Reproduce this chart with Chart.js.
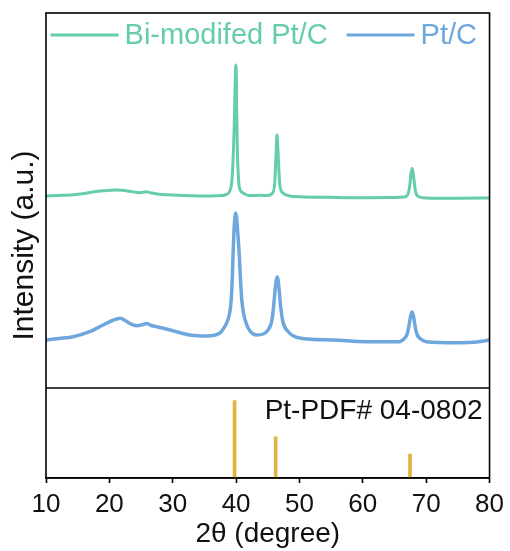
<!DOCTYPE html>
<html>
<head>
<meta charset="utf-8">
<script src="https://cdn.jsdelivr.net/npm/chart.js@4/dist/chart.umd.min.js"></script>
<style>
  html, body { margin: 0; padding: 0; background: #ffffff; }
  #wrap { width: 510px; height: 551px; }
</style>
</head>
<body>
<div id="wrap"><canvas id="c" width="510" height="551"></canvas></div>
<script>
// ---- data (2θ in degrees, intensity in a.u.) ----
const seriesNames = ['Bi-modifed Pt/C', 'Pt/C'];

const biTheta = [10.0, 12.0, 14.3, 16.0, 17.4, 19.0, 20.9, 22.0, 23.2, 24.8, 25.9, 26.5, 27.5, 30.0, 33.0, 35.4, 37.0, 38.5,
  39.0, 39.3, 39.5, 39.7, 39.85, 39.95, 40.05, 40.1, 40.2, 40.35, 40.5, 41.1, 42.0, 43.7, 45.0, 45.7,
  46.1, 46.3, 46.45, 46.6, 46.9, 47.4, 48.5, 50.0, 55.0, 60.6, 65.0, 66.5, 67.1, 67.4, 67.6, 67.8, 68.0,
  68.3, 68.8, 70.0, 75.0, 80.0];
const biIntensity = [2820, 2825, 2833, 2845, 2860, 2872, 2880, 2877, 2867, 2853, 2862, 2853, 2840, 2830, 2822, 2820, 2822, 2835,
  2870, 2950, 3150, 3510, 3930, 4130, 3980, 3680, 3280, 3030, 2910, 2850, 2825, 2827, 2825, 2845,
  2950, 3230, 3430, 3280, 2930, 2850, 2820, 2813, 2807, 2803, 2805, 2810, 2835, 2920, 3040, 3097, 3020,
  2870, 2815, 2800, 2797, 2800];

const ptTheta = [10.0, 12.0, 14.3, 16.9, 19.0, 20.5, 21.7, 22.5, 23.2, 24.3, 25.3, 25.9, 26.6, 27.5, 30.0, 32.7, 35.4, 37.4,
  38.2, 38.7, 38.95, 39.2, 39.4, 39.6, 39.8, 39.95, 40.1, 40.3, 40.5, 40.7, 40.9, 41.2, 41.6, 42.2, 43.2, 44.3, 45.05, 45.35, 45.6,
  45.9, 46.2, 46.5, 46.8, 47.0, 47.4, 48.2, 50.0, 55.3, 60.6, 65.8, 66.3, 66.7, 67.0, 67.3, 67.55, 67.8, 68.05, 68.3, 68.6, 68.95,
  70.0, 74.7, 78.0, 80.0];
const ptIntensity = [1380, 1395, 1413, 1463, 1530, 1575, 1597, 1575, 1547, 1523, 1535, 1545, 1525, 1513, 1473, 1430, 1420, 1447,
  1513, 1580, 1640, 1760, 2000, 2370, 2600, 2650, 2590, 2420, 2230, 1980, 1780, 1640, 1545, 1470, 1430, 1440, 1480, 1515, 1560,
  1700, 1910, 2010, 1880, 1730, 1560, 1465, 1400, 1380, 1363, 1363, 1380, 1405, 1440, 1530, 1620, 1660, 1600, 1500, 1430, 1400,
  1363, 1353, 1360, 1380];

const pdfTheta = [39.76, 46.24, 67.45];
const pdfIntensity = [100, 53, 31];
const pdfLabel = 'Pt-PDF# 04-0802';

const xTicks = [10, 20, 30, 40, 50, 60, 70, 80];
const xTitle = '2\u03B8 (degree)';
const yTitle = 'Intensity (a.u.)';
const panelSplit = 900;   // intensity level separating the pattern panel from the PDF panel

// ---- styles ----
const GREEN = '#66CDAA';
const BLUE = '#6EA7DD';
const GOLD = '#E3B23C';
const FONT = 'Arial, "Liberation Sans", Helvetica, sans-serif';

const zip = (xs, ys) => xs.map((x, i) => ({ x: x, y: ys[i] }));

// horizontal legend drawn inside the top of the plot frame
const insideLegend = {
  id: 'insideLegend',
  afterDraw(chart) {
    const { ctx, chartArea: a } = chart;
    const lineLen = 68, gap = 6, itemGap = 19;
    ctx.save();
    ctx.font = '29px ' + FONT;
    ctx.textBaseline = 'middle';
    ctx.textAlign = 'left';
    const items = chart.data.datasets.filter(d => d.type !== 'bar');
    const widths = items.map(d => lineLen + gap + ctx.measureText(d.label).width);
    const total = widths.reduce((s, w) => s + w, 0) + itemGap * (items.length - 1);
    let x = (a.left + a.right) / 2 - total / 2 - 4;
    const y = a.top + 22;
    items.forEach((d, i) => {
      ctx.strokeStyle = d.borderColor;
      ctx.lineWidth = 3;
      ctx.beginPath();
      ctx.moveTo(x, y);
      ctx.lineTo(x + lineLen, y);
      ctx.stroke();
      ctx.fillStyle = d.borderColor;
      ctx.fillText(d.label, x + lineLen + gap, y + 1);
      x += widths[i] + itemGap;
    });
    ctx.restore();
  }
};

const framePlugin = {
  id: 'frame',
  afterDraw(chart) {
    const { ctx, chartArea: a, scales } = chart;
    ctx.save();
    ctx.strokeStyle = '#000';
    ctx.lineWidth = 1.6;
    ctx.strokeRect(a.left, a.top, a.right - a.left, a.bottom - a.top);
    const ySplit = scales.y.getPixelForValue(panelSplit);
    ctx.beginPath();
    ctx.moveTo(a.left, ySplit);
    ctx.lineTo(a.right, ySplit);
    ctx.stroke();
    ctx.fillStyle = '#111';
    ctx.font = '28px ' + FONT;
    ctx.textAlign = 'right';
    ctx.textBaseline = 'middle';
    ctx.fillText(pdfLabel, a.right - 7, ySplit + 23);
    ctx.restore();
  }
};

new Chart(document.getElementById('c'), {
  type: 'line',
  data: {
    datasets: [
      {
        label: seriesNames[0],
        data: zip(biTheta, biIntensity),
        borderColor: GREEN,
        backgroundColor: GREEN,
        borderWidth: 3,
        pointRadius: 0,
        cubicInterpolationMode: 'monotone',
        yAxisID: 'y'
      },
      {
        label: seriesNames[1],
        data: zip(ptTheta, ptIntensity),
        borderColor: BLUE,
        backgroundColor: BLUE,
        borderWidth: 3.5,
        pointRadius: 0,
        cubicInterpolationMode: 'monotone',
        yAxisID: 'y'
      },
      {
        type: 'bar',
        label: pdfLabel,
        data: zip(pdfTheta, pdfIntensity),
        backgroundColor: GOLD,
        barThickness: 3,
        yAxisID: 'y2'
      }
    ]
  },
  options: {
    responsive: false,
    animation: false,
    layout: { padding: { top: 13, right: 20, left: 0, bottom: 0 } },
    plugins: {
      tooltip: { enabled: false },
      legend: { display: false }
    },
    scales: {
      x: {
        type: 'linear',
        min: 10,
        max: 80,
        offset: false,
        afterBuildTicks: (scale) => { scale.ticks = xTicks.map(v => ({ value: v })); },
        afterFit: (scale) => { scale.height = 73; },
        grid: { display: true, offset: false, drawOnChartArea: false, drawTicks: true, tickLength: 5, tickColor: '#000', tickWidth: 1.6 },
        border: { display: true, color: '#000', width: 1.6 },
        ticks: { color: '#111', font: { size: 26, family: FONT }, padding: 6, maxRotation: 0 },
        title: { display: true, text: xTitle, color: '#111', font: { size: 28, family: FONT }, padding: { top: 0, bottom: 0 } }
      },
      y: {
        min: 0,
        max: 4650,
        afterFit: (scale) => { scale.width = 46; },
        grid: { display: false },
        border: { display: false },
        ticks: { display: false },
        title: { display: true, text: yTitle, color: '#111', font: { size: 30, family: FONT }, padding: { top: 7, bottom: 0 } }
      },
      y2: {
        min: 0,
        max: 600,
        display: false
      }
    }
  },
  plugins: [framePlugin, insideLegend]
});
</script>
</body>
</html>
